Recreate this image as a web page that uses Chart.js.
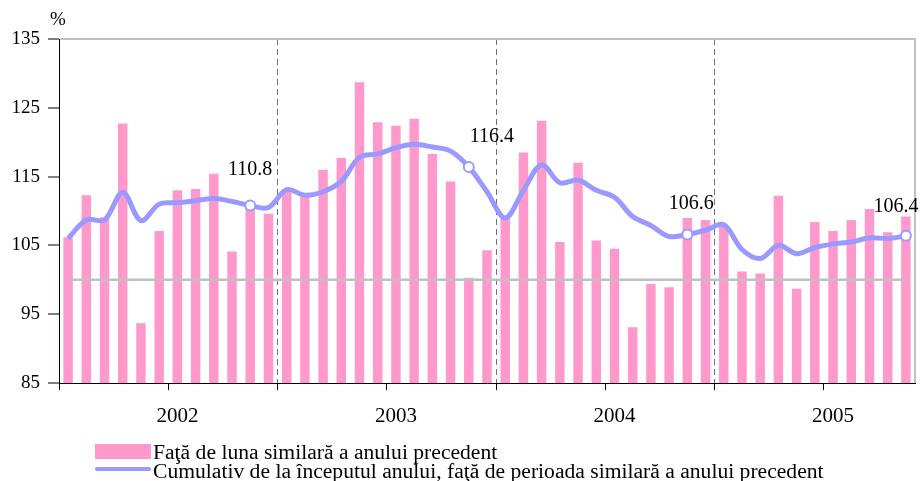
<!DOCTYPE html>
<html><head><meta charset="utf-8">
<script src="https://cdn.jsdelivr.net/npm/chart.js@4/dist/chart.umd.min.js"></script>
<style>html,body{margin:0;padding:0;background:#fff}#wrap{width:922px;height:481px;position:relative}</style>
</head><body><div id="wrap"><canvas id="c" width="922" height="481"></canvas></div>
<script>
// Categories: months Jan 2002 .. Nov 2005
const months = [
 '2002-01','2002-02','2002-03','2002-04','2002-05','2002-06','2002-07','2002-08','2002-09','2002-10','2002-11','2002-12',
 '2003-01','2003-02','2003-03','2003-04','2003-05','2003-06','2003-07','2003-08','2003-09','2003-10','2003-11','2003-12',
 '2004-01','2004-02','2004-03','2004-04','2004-05','2004-06','2004-07','2004-08','2004-09','2004-10','2004-11','2004-12',
 '2005-01','2005-02','2005-03','2005-04','2005-05','2005-06','2005-07','2005-08','2005-09','2005-10','2005-11'
];
const yearLabels = ['2002','2003','2004','2005'];
const yTicks = [85, 95, 105, 115, 125, 135];

// Faţă de luna similară a anului precedent (%)
const monthly = [
 106.2,112.3,109.1,122.7, 93.7,107.1,113.0,113.2,115.4,104.1,110.5,109.6,
 112.8,112.3,116.0,117.7,128.7,122.9,122.4,123.4,118.3,114.3,100.3,104.3,
 109.1,118.5,123.1,105.5,117.0,105.7,104.5, 93.1, 99.4, 98.9,109.0,108.7,
 107.7,101.2,100.9,112.2, 98.7,108.4,107.1,108.7,110.3,106.9,109.2
];
// Cumulativ de la începutul anului (%)
const cumulative = [
 106.0,108.7,108.7,112.7,108.6,111.0,111.2,111.5,111.8,111.4,110.8,110.5,
 113.1,112.3,112.8,114.3,117.8,118.3,119.2,119.7,119.3,118.7,116.4,112.8,
 109.0,113.0,116.7,114.1,114.5,113.0,112.0,109.2,107.9,106.3,106.6,107.2,
 108.0,104.4,103.1,105.0,103.8,104.7,105.2,105.5,106.1,106.0,106.4
];
const baseline = 100;
const markedIdx = [10, 22, 34, 46];
const markedLabels = ['110.8', '116.4', '106.6', '106.4'];

const labelOffsets = [[0,-36],[23,-30],[4,-31],[-10,-29]];
const SERIF = '"Liberation Serif", "Times New Roman", serif';

function stretchedText(ctx, text, x, y, sx) {
  ctx.save();
  ctx.translate(x, y);
  ctx.scale(sx, 1);
  ctx.fillText(text, 0, 0);
  ctx.restore();
}

const decor = {
  id: 'decor',
  beforeDatasetsDraw(chart) {
    const {ctx, chartArea: a} = chart;
    ctx.save();
    ctx.strokeStyle = '#c0c0c0'; ctx.lineWidth = 2;
    ctx.beginPath(); ctx.moveTo(a.right, a.top - 1); ctx.lineTo(a.right, a.bottom); ctx.stroke();
    ctx.restore();
  },
  afterDraw(chart) {
    const {ctx} = chart;
    ctx.save();
    ctx.fillStyle = '#000';
    // % unit
    ctx.font = '19px ' + SERIF;
    ctx.textAlign = 'center'; ctx.textBaseline = 'middle';
    ctx.fillText('%', 58, 20);
    // value labels
    const meta = chart.getDatasetMeta(0);
    ctx.font = '20px ' + SERIF;
    markedIdx.forEach((idx, k) => {
      const el = meta.data[idx];
      ctx.fillText(markedLabels[k], el.x + labelOffsets[k][0], el.y + labelOffsets[k][1]);
    });
    // legend
    const dsBar = chart.data.datasets[2], dsLine = chart.data.datasets[0];
    ctx.fillStyle = dsBar.backgroundColor;
    ctx.fillRect(95, 444, 56, 15);
    ctx.strokeStyle = dsLine.borderColor; ctx.lineWidth = 4; ctx.lineCap = 'round';
    ctx.beginPath(); ctx.moveTo(97, 469); ctx.lineTo(149, 469); ctx.stroke();
    ctx.fillStyle = '#000';
    ctx.textAlign = 'left'; ctx.textBaseline = 'alphabetic';
    ctx.font = '20px ' + SERIF;
    stretchedText(ctx, dsBar.label, 153, 459, 1.08);
    stretchedText(ctx, dsLine.label, 153, 478, 1.08);
    ctx.restore();
  }
};

new Chart(document.getElementById('c'), {
  type: 'bar',
  data: {
    labels: months,
    datasets: [
      {
        type: 'line',
        label: 'Cumulativ de la începutul anului, faţă de perioada similară a anului precedent',
        data: cumulative,
        borderColor: '#9999ff', borderWidth: 5, tension: 0.35,
        pointRadius: c => markedIdx.includes(c.dataIndex) ? 5 : 0,
        pointBackgroundColor: '#ffffff', pointBorderColor: '#9999ff', pointBorderWidth: 2,
        order: 1
      },
      {
        type: 'line', label: 'ref',
        data: months.map(() => baseline),
        borderColor: '#c0c0c0', borderWidth: 2.5, pointRadius: 0, order: 2
      },
      {
        type: 'bar',
        label: 'Faţă de luna similară a anului precedent',
        data: monthly,
        backgroundColor: '#ff99cc',
        barPercentage: 0.52, categoryPercentage: 1,
        order: 3
      }
    ]
  },
  options: {
    responsive: false, animation: false, devicePixelRatio: 1,
    layout: {padding: {top: 39, right: 6, left: 0, bottom: 0}},
    plugins: {legend: {display: false}, tooltip: {enabled: false}},
    scales: {
      x: {
        offset: true,
        grid: {
          offset: true, drawOnChartArea: true,
          color: c => [12, 24, 36].includes(c.index) ? '#6c6c9c' : 'rgba(0,0,0,0)',
          tickColor: c => (c.index % 6 === 0 && c.index < 47) ? '#000' : 'rgba(0,0,0,0)',
          tickLength: 7, lineWidth: 1, tickWidth: 1
        },
        border: {color: '#000', width: 1, dash: [6, 4]},
        ticks: {
          autoSkip: false, maxRotation: 0, minRotation: 0,
          callback: (v, i) => (i % 12 === 6) ? yearLabels[(i - 6) / 12] : '',
          font: {family: SERIF, size: 21}, color: '#000', padding: 14
        },
        afterFit: s => { s.height = 98; }
      },
      y: {
        min: 85, max: 135,
        afterBuildTicks: s => { s.ticks = yTicks.map(v => ({value: v})); },
        grid: {
          color: c => (c.tick && c.tick.value === 135) ? '#c0c0c0' : 'rgba(0,0,0,0)',
          lineWidth: 2, tickWidth: 1, tickLength: 11, tickColor: '#000'
        },
        border: {color: '#000', width: 1},
        ticks: {font: {family: SERIF, size: 19}, color: '#000', padding: 8},
        afterFit: s => { s.width = 59; }
      }
    }
  },
  plugins: [decor]
});
</script>
</body></html>
